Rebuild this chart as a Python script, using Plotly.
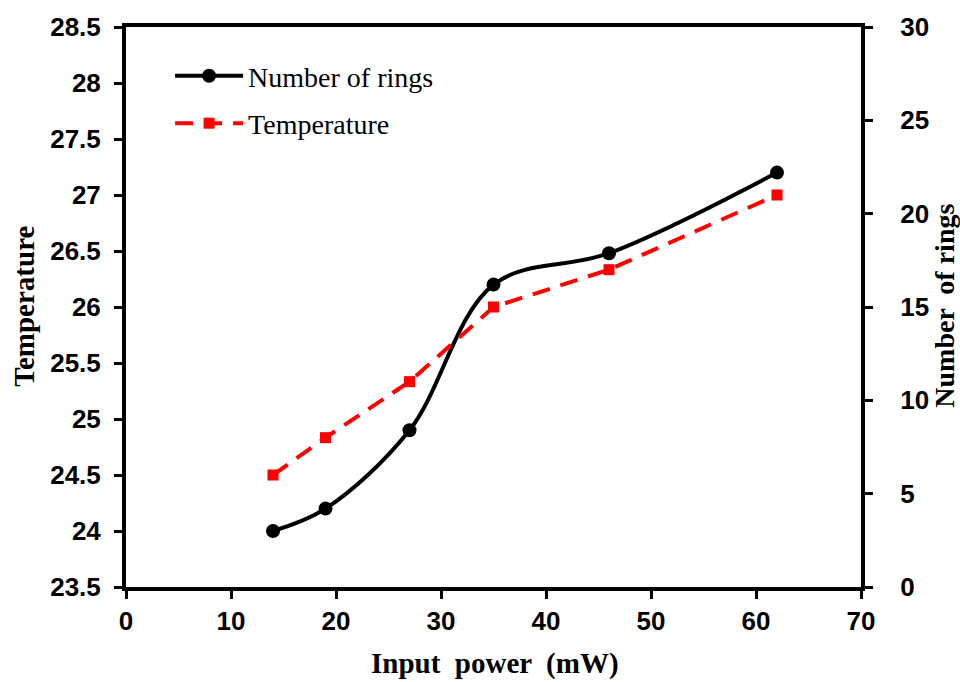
import plotly.graph_objects as go

power_mw = [14, 19, 27, 35, 46, 62]
rings_series = [24.0, 24.2, 24.9, 26.2, 26.48, 27.2]
temp_series = [6, 8, 11, 15, 17, 21]

x_ticks = [0, 10, 20, 30, 40, 50, 60, 70]
y_left_ticks = [23.5, 24, 24.5, 25, 25.5, 26, 26.5, 27, 27.5, 28, 28.5]
y_right_ticks = [0, 5, 10, 15, 20, 25, 30]

sans = "Liberation Sans, Arial, sans-serif"
serif = "Liberation Serif, Times New Roman, serif"

fig = go.Figure()
fig.add_trace(go.Scatter(
    x=power_mw, y=rings_series, name="Number of rings", mode="lines+markers",
    legendgroup="a",
    line=dict(color="black", width=4, shape="spline", smoothing=1.0),
    marker=dict(symbol="circle", size=14, color="black"),
    yaxis="y"))
fig.add_trace(go.Scatter(
    x=power_mw, y=temp_series, name="Temperature", mode="lines+markers",
    legendgroup="b",
    line=dict(color="#ff0000", width=4, dash="18px,11px"),
    marker=dict(symbol="square", size=11, color="#ff0000"),
    yaxis="y2"))

tickfont = dict(family=sans, size=26, color="black", weight="bold")
titlefont = dict(family=serif, size=29, color="black", weight="bold")
fig.update_layout(
    width=960, height=682,
    margin=dict(l=126, r=99, t=27, b=95),
    paper_bgcolor="white", plot_bgcolor="white",
    showlegend=True,
    legend=dict(x=0.06, y=0.957, xanchor="left", yanchor="top",
                font=dict(family=serif, size=28, color="black"),
                bgcolor="rgba(0,0,0,0)", itemwidth=68, traceorder="grouped",
                tracegroupgap=8),
    xaxis=dict(range=[0, 70], tickvals=x_ticks, ticks="outside", ticklen=8, tickwidth=3,
               tickcolor="black", showline=True, linecolor="black", linewidth=4,
               mirror=True, showgrid=False, zeroline=False, tickfont=tickfont),
    yaxis=dict(range=[23.5, 28.5], tickvals=y_left_ticks, ticktext=[f"{v:g}" for v in y_left_ticks],
               ticks="outside", ticklen=8, tickwidth=3, tickcolor="black",
               showline=True, linecolor="black", linewidth=4, showgrid=False, zeroline=False,
               tickfont=tickfont, ticklabelstandoff=8, automargin=False),
    yaxis2=dict(range=[0, 30], tickvals=y_right_ticks, overlaying="y", side="right",
                ticks="outside", ticklen=8, tickwidth=3, tickcolor="black",
                showline=True, linecolor="black", linewidth=4, showgrid=False, zeroline=False,
                tickfont=tickfont, ticklabelstandoff=22, automargin=False),
    annotations=[
        dict(text="Input  power  (mW)", x=0.502, y=-0.136, xref="paper", yref="paper",
             showarrow=False, xanchor="center", yanchor="middle", font=titlefont),
        dict(text="Temperature", x=-0.139, y=0.502, xref="paper", yref="paper",
             showarrow=False, xanchor="center", yanchor="middle", textangle=-90, font=titlefont),
        dict(text="Number  of rings", x=1.114, y=0.502, xref="paper", yref="paper",
             showarrow=False, xanchor="center", yanchor="middle", textangle=-90,
             font=dict(family=serif, size=28, color="black", weight="bold")),
    ],
)

fig.write_html("out.html")
